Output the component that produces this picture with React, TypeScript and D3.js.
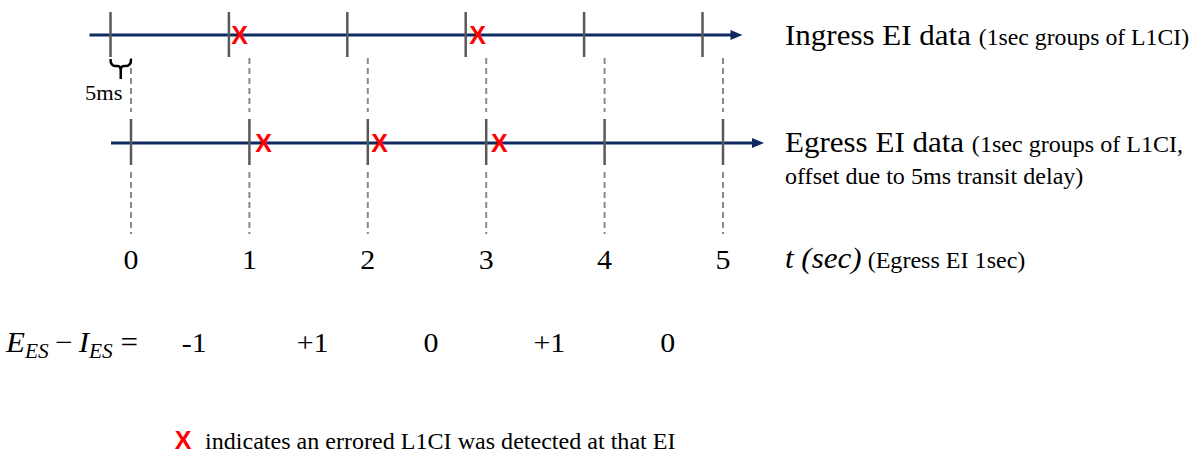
import React from 'react';
import * as d3 from 'd3';

// seconds on the egress time axis
const seconds = [0, 1, 2, 3, 4, 5];
// errored L1CI positions (in sec) on each EI line
const ingressErrors = [1.09, 3.1];
const egressErrors = [1.12, 2.1, 3.11];
// E_ES - I_ES per egress second
const diffLabels = ['-1', '+1', '0', '+1', '0'];
const delayLabel = '5ms';

const W = 1194;
const H = 455;
const serif = "'Liberation Serif', 'Times New Roman', serif";
const sans = "'Liberation Sans', Arial, sans-serif";
const navy = '#0e2a60';
const tickGrey = '#595959';
const dashGrey = '#8a8a8a';
const red = '#ff0000';
const stretch = 1.07; // text in the source is slightly wide

const serifStyle = (size: number, italic = false): React.CSSProperties => ({
  fontFamily: serif,
  fontSize: size,
  fontStyle: italic ? 'italic' : 'normal',
});

function Label(props: {
  x: number;
  y: number;
  size: number;
  anchor?: 'start' | 'middle' | 'end';
  italic?: boolean;
  children: React.ReactNode;
}) {
  const { x, y, size, anchor = 'start', italic = false, children } = props;
  return (
    <text
      transform={`translate(${x},${y}) scale(${stretch},1)`}
      textAnchor={anchor}
      style={serifStyle(size, italic)}
      fill="#000"
    >
      {children}
    </text>
  );
}

export default function App() {
  const x = d3.scaleLinear().domain([0, 5]).range([131, 723]);
  const delayPx = 20.5; // 5ms transit delay, drawn exaggerated
  const xIn = (t: number) => x(t) - delayPx;

  const yIn = 35;
  const yEg = 143;

  const arrow = (tip: number, y: number) =>
    `${tip},${y} ${tip - 12},${y - 5} ${tip - 12},${y + 5}`;

  const inStart = xIn(0) - 21;
  const inTip = xIn(5) + 40;
  const egStart = x(0) - 20;
  const egTip = x(5) + 41;

  // brace between ingress and egress zero
  const b0 = xIn(0);
  const b1 = x(0);
  const bm = (b0 + b1) / 2;
  const brace = `M${b0},59 Q${b0},66 ${b0 + 5},66 L${bm - 3},66 Q${bm},66 ${bm},71 L${bm},79 M${bm},71 Q${bm},66 ${bm + 3},66 L${b1 - 5},66 Q${b1},66 ${b1},59`;

  const xMark = (cx: number, cy: number, key: string) => (
    <text
      key={key}
      x={cx}
      y={cy + 9}
      textAnchor="middle"
      style={{ fontFamily: sans, fontWeight: 'bold', fontSize: 25 }}
      fill={red}
    >
      X
    </text>
  );

  return (
    <svg
      width={W}
      height={H}
      style={{ position: 'absolute', left: 0, top: 0, background: '#fff' }}
    >
      {/* dashed guides at egress second boundaries */}
      {seconds.map((s) => (
        <g key={`d${s}`} stroke={dashGrey} strokeWidth={2} strokeDasharray="6,4">
          <line x1={x(s)} x2={x(s)} y1={58} y2={112} />
          <line x1={x(s)} x2={x(s)} y1={172} y2={234} />
        </g>
      ))}

      {/* ingress line */}
      <line x1={inStart} x2={inTip - 8} y1={yIn} y2={yIn} stroke={navy} strokeWidth={3} />
      <polygon points={arrow(inTip, yIn)} fill={navy} />
      {seconds.map((s) => (
        <line key={`it${s}`} x1={xIn(s)} x2={xIn(s)} y1={12} y2={57} stroke={tickGrey} strokeWidth={2.5} />
      ))}
      {ingressErrors.map((t, i) => xMark(xIn(t), yIn, `ie${i}`))}

      {/* egress line */}
      <line x1={egStart} x2={egTip - 8} y1={yEg} y2={yEg} stroke={navy} strokeWidth={3} />
      <polygon points={arrow(egTip, yEg)} fill={navy} />
      {seconds.map((s) => (
        <line key={`et${s}`} x1={x(s)} x2={x(s)} y1={119} y2={165} stroke={tickGrey} strokeWidth={2.5} />
      ))}
      {egressErrors.map((t, i) => xMark(x(t), yEg, `ee${i}`))}

      {/* 5ms brace */}
      <path d={brace} fill="none" stroke="#000" strokeWidth={2.5} />
      <Label x={bm - 17} y={100} size={21} anchor="middle">
        {delayLabel}
      </Label>

      {/* right-hand labels */}
      <Label x={785} y={45} size={29}>
        Ingress EI data <tspan style={serifStyle(22.2)}>(1sec groups of L1CI)</tspan>
      </Label>
      <Label x={785} y={152} size={29}>
        Egress EI data <tspan style={serifStyle(22.5)}>(1sec groups of L1CI,</tspan>
      </Label>
      <Label x={785} y={184} size={22.5}>
        offset due to 5ms transit delay)
      </Label>
      <Label x={785} y={268} size={29}>
        <tspan style={serifStyle(29, true)}>t (sec)</tspan>
        <tspan style={serifStyle(22.5)}> (Egress EI 1sec)</tspan>
      </Label>

      {/* second labels */}
      {seconds.map((s) => (
        <Label key={`n${s}`} x={x(s)} y={269} size={28} anchor="middle">
          {s}
        </Label>
      ))}

      {/* E_ES - I_ES row */}
      <Label x={6} y={352} size={29}>
        <tspan style={serifStyle(29, true)}>E</tspan>
        <tspan style={serifStyle(20, true)} dy={6}>ES</tspan>
        <tspan dy={-6}>{'\u2009\u2212\u2009'}</tspan>
        <tspan style={serifStyle(29, true)}>I</tspan>
        <tspan style={serifStyle(20, true)} dy={6}>ES</tspan>
        <tspan dy={-6}>{'\u00a0='}</tspan>
      </Label>
      {diffLabels.map((d, i) => (
        <Label key={`v${i}`} x={x(i + 0.5) + 4} y={352} size={28} anchor="middle">
          {d}
        </Label>
      ))}

      {/* legend */}
      {xMark(183, 440, 'lg')}
      <Label x={205} y={449} size={22.5}>
        indicates an errored L1CI was detected at that EI
      </Label>
    </svg>
  );
}
